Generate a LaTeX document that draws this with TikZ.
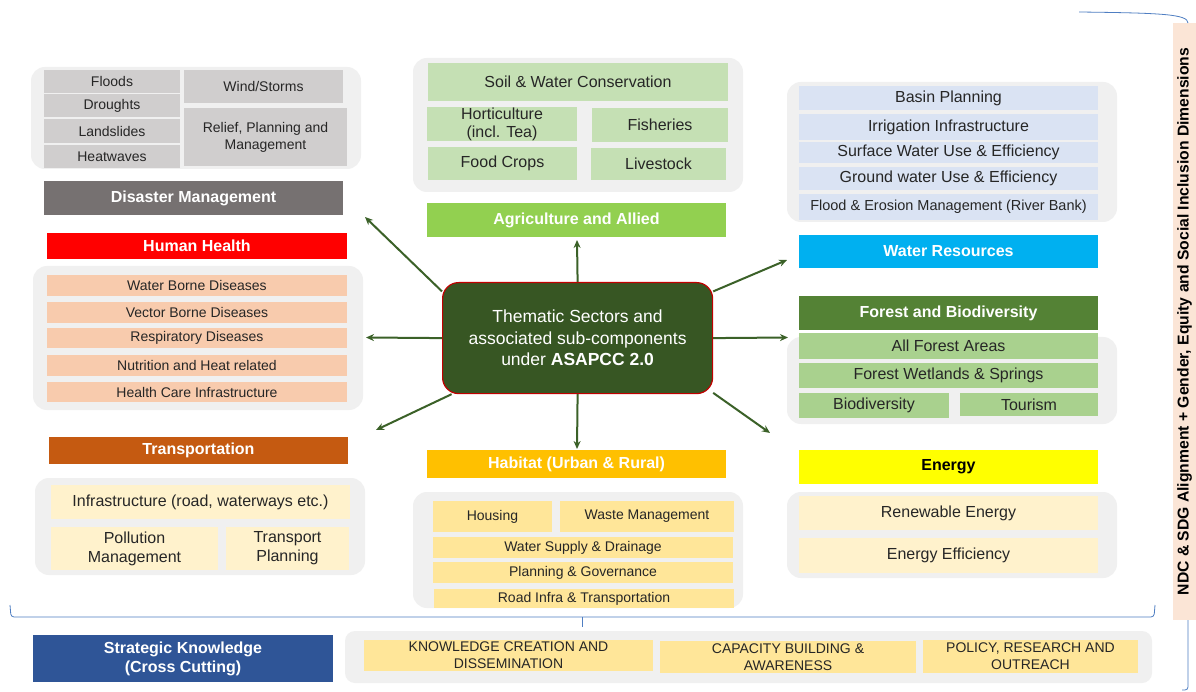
\documentclass[tikz,border=0pt]{standalone}
\usepackage{fontspec}
\setsansfont{Liberation Sans}
\usepackage{xcolor}
\usetikzlibrary{arrows.meta}
\definecolor{grpbg}{HTML}{F0F0F0}
\definecolor{dmcell}{HTML}{D0CECE}\definecolor{dmhead}{HTML}{767171}
\definecolor{agcell}{HTML}{C5E0B4}\definecolor{aghead}{HTML}{92D050}
\definecolor{wrcell}{HTML}{DAE3F3}\definecolor{wrhead}{HTML}{00B0F0}
\definecolor{hhcell}{HTML}{F8CBAD}\definecolor{hhhead}{HTML}{FF0000}
\definecolor{fbcell}{HTML}{A9D18E}\definecolor{fbhead}{HTML}{548235}
\definecolor{trcell}{HTML}{FFF2CC}\definecolor{trhead}{HTML}{C55A11}
\definecolor{habcell}{HTML}{FFE699}\definecolor{habhead}{HTML}{FFC000}
\definecolor{encell}{HTML}{FFF2CC}\definecolor{enhead}{HTML}{FFFF00}
\definecolor{skcell}{HTML}{FFE699}\definecolor{skhead}{HTML}{2F5597}
\definecolor{stripbg}{HTML}{FBE5D6}
\definecolor{centregreen}{HTML}{375623}\definecolor{centreborder}{HTML}{C00000}
\definecolor{arrowgreen}{HTML}{3B6128}\definecolor{brkblue}{HTML}{4F7EC2}

\begin{document}
\begin{tikzpicture}[x=1pt,y=-1pt,font=\sffamily\fontsize{16}{19}\selectfont,
grp/.style={anchor=north west,fill=grpbg,rounded corners=14pt,outer sep=0pt},
cell/.style={anchor=north west,fill=#1,align=center,inner sep=0pt,outer sep=0pt,text=black!85},
head/.style={anchor=north west,fill=#1,align=center,inner sep=0pt,outer sep=0pt,text=white,font=\sffamily\bfseries\fontsize{16}{19}\selectfont},
sz/.style 2 args={minimum width=#1pt,minimum height=#2pt},
small/.style={font=\sffamily\fontsize{14}{17}\selectfont},
arrow/.style={draw=arrowgreen,line width=2pt,-{Stealth[length=8pt,width=7pt]}},
brk/.style={draw=brkblue,line width=0.8pt,rounded corners=3pt}]
\useasboundingbox[fill=white] (0,0) rectangle (1196,692);
% disaster management
\node[grp,sz={330}{102}] (dmgrp) at (31,67) {};
\node[cell=dmcell,sz={136}{23},small] (floods) at (44,70) {Floods};
\node[cell=dmcell,sz={136}{23},small] (droughts) at (44,94.5) {Droughts};
\node[cell=dmcell,sz={136}{24},small] (landslides) at (44,119) {Landslides};
\node[cell=dmcell,sz={136}{23},small] (heatwaves) at (44,145) {Heatwaves};
\node[cell=dmcell,sz={159}{33},small] (wind) at (184,70) {Wind/Storms};
\node[cell=dmcell,sz={163}{58},small] (relief) at (184,108) {Relief, Planning and\\Management};
\node[head=dmhead,sz={299}{34}] (dm) at (44,181) {Disaster Management};
% agriculture
\node[grp,sz={330}{134}] (aggrp) at (413,58) {};
\node[cell=agcell,sz={300}{38}] (soil) at (428,63) {Soil \& Water Conservation};
\node[cell=agcell,sz={150}{34},font=\sffamily\fontsize{16}{18}\selectfont] (horti) at (427,107) {Horticulture\\(incl. Tea)};
\node[cell=agcell,sz={136}{34}] (fish) at (592,108) {Fisheries};
\node[cell=agcell,sz={149}{33}] (food) at (428,147) {Food Crops};
\node[cell=agcell,sz={135}{32}] (live) at (591,148) {Livestock};
\node[head=aghead,sz={299}{34}] (agri) at (427,203) {Agriculture and Allied};
% water resources
\node[grp,sz={330}{140}] (wrgrp) at (787,82) {};
\node[cell=wrcell,sz={299}{24}] (basin) at (799,86) {Basin Planning};
\node[cell=wrcell,sz={299}{26}] (irrig) at (799,114) {Irrigation Infrastructure};
\node[cell=wrcell,sz={299}{21}] (surface) at (799,142) {Surface Water Use \& Efficiency};
\node[cell=wrcell,sz={299}{23}] (ground) at (799,167) {Ground water Use \& Efficiency};
\node[cell=wrcell,sz={299}{26},font=\sffamily\fontsize{14.5}{17}\selectfont] (erosion) at (799,194) {Flood \& Erosion Management (River Bank)};
\node[head=wrhead,sz={299}{33}] (wr) at (799,235) {Water Resources};
% human health
\node[head=hhhead,sz={300}{26}] (hh) at (47,233) {Human Health};
\node[grp,sz={330}{144}] (hhgrp) at (33,266) {};
\node[cell=hhcell,sz={300}{21},small] (waterborne) at (47,275) {Water Borne Diseases};
\node[cell=hhcell,sz={300}{21},small] (vector) at (47,302) {Vector Borne Diseases};
\node[cell=hhcell,sz={300}{20},small] (resp) at (47,328) {Respiratory Diseases};
\node[cell=hhcell,sz={300}{21},small] (nutrition) at (47,355) {Nutrition and Heat related};
\node[cell=hhcell,sz={300}{20},small] (healthcare) at (47,382) {Health Care Infrastructure};
% forest and biodiversity
\node[head=fbhead,sz={299}{34}] (fb) at (799,296) {Forest and Biodiversity};
\node[grp,sz={330}{87}] (fbgrp) at (787,337) {};
\node[cell=fbcell,sz={299}{26}] (allforest) at (799,333) {All Forest Areas};
\node[cell=fbcell,sz={299}{25}] (wetlands) at (799,363) {Forest Wetlands \& Springs};
\node[cell=fbcell,sz={150}{25}] (biodiv) at (799,393) {Biodiversity};
\node[cell=fbcell,sz={138}{23}] (tourism) at (960,393) {Tourism};
% transportation
\node[head=trhead,sz={299}{27}] (tr) at (49,437) {Transportation};
\node[grp,sz={330}{97}] (trgrp) at (35,478) {};
\node[cell=trcell,sz={299}{34}] (infra) at (51,485) {Infrastructure (road, waterways etc.)};
\node[cell=trcell,sz={167}{43}] (pollution) at (51,527) {Pollution\\Management};
\node[cell=trcell,sz={123}{43}] (tplan) at (226,527) {Transport\\Planning};
% habitat
\node[head=habhead,sz={299}{28}] (hab) at (427,450) {Habitat (Urban \& Rural)};
\node[grp,sz={330}{116}] (habgrp) at (413,492) {};
\node[cell=habcell,sz={119}{31},small] (housing) at (433,501) {Housing};
\node[cell=habcell,sz={174}{31},small] (waste) at (560,501) {Waste Management};
\node[cell=habcell,sz={300}{21},small] (watersupply) at (433,537) {Water Supply \& Drainage};
\node[cell=habcell,sz={300}{21},small] (planning) at (433,562) {Planning \& Governance};
\node[cell=habcell,sz={300}{19},small] (roadinfra) at (434,589) {Road Infra \& Transportation};
% energy
\node[head=enhead,sz={299}{34},text=black] (en) at (799,450) {Energy};
\node[grp,sz={330}{86}] (engrp) at (787,492) {};
\node[cell=encell,sz={299}{34}] (renew) at (799,496) {Renewable Energy};
\node[cell=encell,sz={299}{35}] (effic) at (799,538) {Energy Efficiency};
% strategic knowledge
\node[head=skhead,sz={300}{47}] (sk) at (33,635) {Strategic Knowledge\\(Cross Cutting)};
\node[grp,sz={807}{52},rounded corners=10pt] (skgrp) at (345,631) {};
\node[cell=skcell,sz={289}{31},small] (creation) at (364,640) {KNOWLEDGE CREATION AND\\DISSEMINATION};
\node[cell=skcell,sz={256}{32},small] (capacity) at (660,641) {CAPACITY BUILDING \&\\AWARENESS};
\node[cell=skcell,sz={215}{33},small] (policy) at (923,640) {POLICY, RESEARCH AND\\OUTREACH};
% side strip and brackets
\node[fill=stripbg,rotate=90,sz={597}{23},inner sep=0pt,font=\sffamily\bfseries\fontsize{15.7}{17}\selectfont] (ndc) at (1184.5,321.5) {NDC \& SDG Alignment + Gender, Equity and Social Inclusion Dimensions};
\draw[brk] (10,605) -- (11,617) -- (1154,617) -- (1155,605);
\draw[brk] (582,617) -- (582,627);
\draw[brk] (1079,12) .. controls (1160,13) and (1188,14) .. (1188,23);
\draw[brk] (ndc.west) ++(3.5,0) -- (1188,690) -- (1182,690);
% centre and arrows
\node[anchor=north west,sz={270}{111},fill=centregreen,draw=centreborder,line width=1.2pt,rounded corners=16pt,text=white,align=center,font=\sffamily\fontsize{17.5}{21.5}\selectfont] (centre) at (442,282) {Thematic Sectors and\\associated sub-components\\under \textbf{ASAPCC 2.0}};
\coordinate (tipTL) at (365,217);\coordinate (tipUp) at (577,240);\coordinate (tipUR) at (787,260);\coordinate (tipL) at (366,337.5);
\coordinate (tipR) at (788,337.5);\coordinate (tipDL) at (376,430);\coordinate (tipDn) at (577,449);\coordinate (tipDR) at (770,433);
\draw[arrow] (centre.161) -- (tipTL);\draw[arrow] (centre.north) -- (tipUp);\draw[arrow] (centre.19) -- (tipUR);\draw[arrow] (centre.west) -- (tipL);
\draw[arrow] (centre.east) -- (tipR);\draw[arrow] (centre.204) -- (tipDL);\draw[arrow] (centre.south) -- (tipDn);\draw[arrow] (centre.338) -- (tipDR);
\end{tikzpicture}
\end{document}
